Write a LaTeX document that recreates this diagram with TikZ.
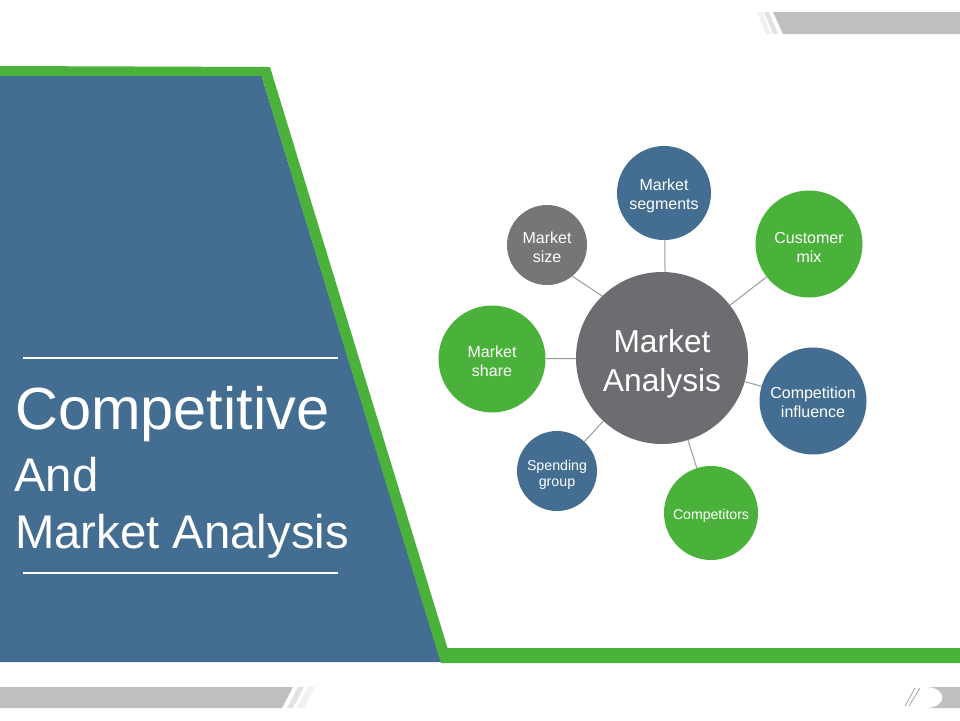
\documentclass[tikz,border=0pt]{standalone}
\usepackage{fontspec}
\setmainfont{Liberation Sans}
\definecolor{panelblue}{HTML}{446E91}
\definecolor{leafgreen}{HTML}{4AB23A}
\definecolor{hubgray}{HTML}{6D6C70}
\definecolor{sizegray}{HTML}{767678}
\definecolor{bargray}{HTML}{BFBFBF}
\definecolor{stripegray}{HTML}{E2E2E2}
\definecolor{stripelight}{HTML}{F1F1F1}
\definecolor{linkgray}{HTML}{9A9A9A}
\tikzset{
  bubble/.style={circle,inner sep=0pt,text=white,align=center,text height=36pt,font=\fontsize{16}{19}\selectfont},
  link/.style={draw=linkgray,line width=1pt},
  titletext/.style={anchor=west,text=white,inner sep=0pt}
}
\begin{document}
\begin{tikzpicture}[x=1pt,y=-1pt]
        \useasboundingbox (0,0) rectangle (960,720);
        \fill[panelblue] (0,76) -- (261.6,76) -- (441,662) -- (0,662) -- cycle;
        \fill[leafgreen] (0,66) -- (270,67) -- (447.5,648) -- (960,648) -- (960,663)
                -- (441,663) -- (261.6,76) -- (0,76) -- cycle;
        \fill[bargray] (773,12) -- (960,12) -- (960,34) -- (783,34) -- cycle;
        \fill[stripegray] (764,12) -- (769,12) -- (778,34) -- (773,34) -- cycle;
        \fill[stripelight] (757,12) -- (762,12) -- (771,34) -- (766,34) -- cycle;
        \fill[bargray] (0,687) -- (293,687) -- (282,708) -- (0,708) -- cycle;
        \fill[stripegray] (298,687) -- (304,687) -- (293,708) -- (287,708) -- cycle;
        \fill[stripelight] (308,687) -- (315,687) -- (304,708) -- (297,708) -- cycle;
        \fill[bargray] (926,687) -- (960,687) -- (960,708) -- (926,708)
                .. controls (948,708) and (948,687) .. (926,687) -- cycle;
        \draw[linkgray,line width=.7pt] (905,706) -- (915,688);
        \draw[linkgray,line width=.7pt] (909,706) -- (920,688);

        \coordinate (topruleL) at (23,358);
        \coordinate (topruleR) at (338,358);
        \coordinate (botruleL) at (23,573);
        \coordinate (botruleR) at (338,573);
        \draw[white,line width=2pt] (topruleL) -- (topruleR);
        \draw[white,line width=2pt] (botruleL) -- (botruleR);
        \node[titletext,font=\fontsize{59.5}{60}\selectfont] (competitive) at (15,414) {Competitive};
        \node[titletext,font=\fontsize{47.3}{50}\selectfont] (andword) at (14,475) {And};
        \node[titletext,font=\fontsize{47.3}{50}\selectfont] (marketanalysis) at (15,536) {Market Analysis};

        \node[bubble,fill=hubgray,minimum size=172pt,text height=73pt,font=\fontsize{31.7}{39}\selectfont] (hub) at (662,358) {Market\\Analysis};
        \node[bubble,fill=panelblue,minimum size=94pt,text height=37pt] (segments) at (664,193) {Market\\segments};
        \node[bubble,fill=leafgreen,minimum size=107pt] (customer) at (809,244) {Customer\\mix};
        \node[bubble,fill=panelblue,minimum size=107pt,text height=34pt] (influence) at (813,401) {Competition\\influence};
        \node[bubble,fill=leafgreen,minimum size=94pt,text height=16.5pt,font=\fontsize{14.1}{17}\selectfont] (competitors) at (711,513) {Competitors};
        \node[bubble,fill=panelblue,minimum size=80pt,text height=34.5pt,font=\fontsize{14.2}{16.5}\selectfont] (spending) at (557,471) {Spending\\group};
        \node[bubble,fill=leafgreen,minimum size=107pt] (share) at (492,359) {Market\\share};
        \node[bubble,fill=sizegray,minimum size=80pt] (size) at (547,245) {Market\\size};

        \draw[link] (hub.88) -- (segments.-89);
        \draw[link] (hub) -- (customer);
        \draw[link] (hub) -- (influence);
        \draw[link] (hub) -- (competitors);
        \draw[link] (hub) -- (spending);
        \draw[link] (hub) -- (share);
        \draw[link] (hub.134) -- (size.-51);
\end{tikzpicture}
\end{document}
